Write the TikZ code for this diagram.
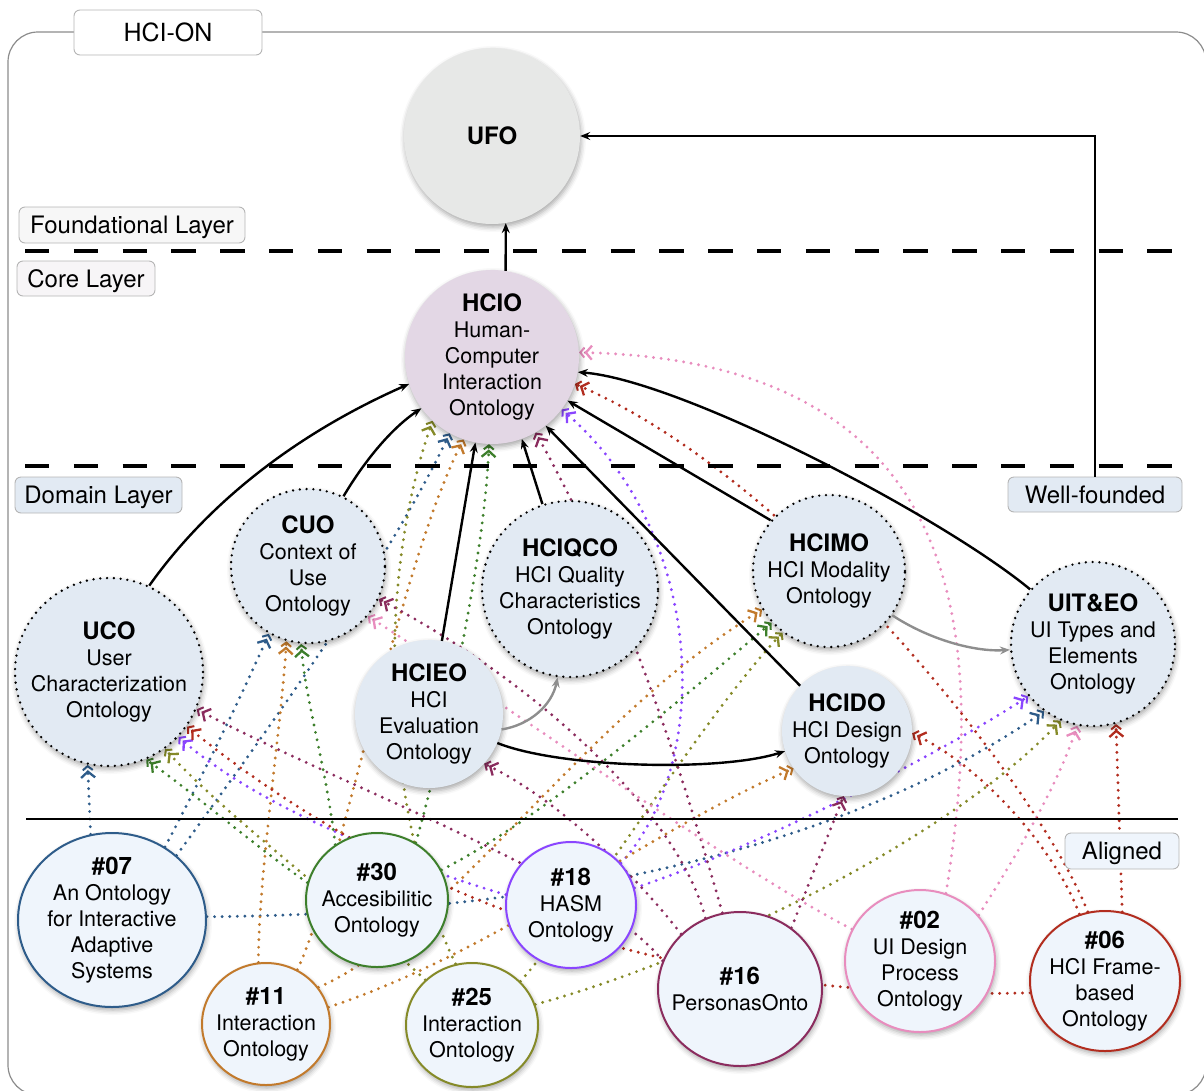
\documentclass[tikz,border=0pt]{standalone}
\usepackage{fontspec}
\setmainfont{TeX Gyre Heros}
\usetikzlibrary{arrows.meta,shapes.geometric,shadows.blur}

\definecolor{ufoFill}{HTML}{E7E8E7}
\definecolor{hcioFill}{HTML}{E3D7E5}
\definecolor{domFill}{HTML}{E2EAF3}
\definecolor{algFill}{HTML}{EFF5FC}
\definecolor{foundFill}{HTML}{F7F7F7}
\definecolor{coreFill}{HTML}{F7F5F7}
\definecolor{tagLine}{HTML}{B5B5B5}
\definecolor{frameLine}{HTML}{8C8C8C}
\definecolor{relGray}{HTML}{8E8E8E}
\definecolor{cSeven}{HTML}{2E5C8A}
\definecolor{cThirty}{HTML}{3D7F2B}
\definecolor{cEighteen}{HTML}{8A45FF}
\definecolor{cEleven}{HTML}{C27A2C}
\definecolor{cTwentyFive}{HTML}{858A28}
\definecolor{cSixteen}{HTML}{8B2C5E}
\definecolor{cTwo}{HTML}{E88DBE}
\definecolor{cSix}{HTML}{B22D1F}

\newcommand\nodetitle[1]{{\fontsize{24}{26}\selectfont\bfseries #1}}

\pgfdeclarelayer{links}
\pgfsetlayers{links,main}

\begin{document}
\begin{tikzpicture}[x=1pt,y=-1pt,
  softshadow/.style={blur shadow={shadow xshift=1pt,shadow yshift=-3pt,shadow blur radius=5pt,shadow opacity=35}},
  ball/.style={circle,inner sep=0pt,minimum size=#1,softshadow},
  domainnode/.style={ball=#1,fill=domFill,draw=black,line width=2.6pt,dash pattern=on 0pt off 6.8pt,line cap=round},
  plainnode/.style={ball=#1,fill=domFill},
  alignednode/.style={ellipse,inner sep=0pt,fill=algFill,draw=#1,line width=2pt,softshadow},
  txt/.style={align=center,inner sep=0pt,font=\fontsize{21.5}{26}\selectfont},
  layertag/.style={draw=tagLine,line width=0.9pt,rounded corners=6pt,inner sep=0pt,text depth=0pt,font=\fontsize{24}{26}\selectfont},
  isa/.style={line width=2.4pt,-{Stealth[length=10pt,width=8pt,inset=3.5pt]}},
  subtle/.style={isa,draw=relGray},
  link/.style={draw=#1,line width=3.2pt,line cap=round,dash pattern=on 0pt off 7.6pt,
     -{Straight Barb[length=6pt,width=14pt,line width=2.3pt,sep=-1pt] Straight Barb[length=4pt,width=10pt,line width=2pt]}},
]
\useasboundingbox (0,0) rectangle (1204,1090);

% outer frame and its title
\draw[frameLine,line width=1.2pt,rounded corners=30pt] (8,32) rectangle (1206,1095);
\node[layertag,fill=white,minimum width=188pt,minimum height=45pt,font=\fontsize{25}{27}\selectfont] (hcion) at (168,32.5) {HCI-ON};

% layer separators
\draw[line width=4.5pt,dash pattern=on 24.4pt off 24.4pt] (25,251) -- (1173,251);
\draw[line width=4.5pt,dash pattern=on 24.4pt off 24.4pt] (25,466) -- (1173,466);
\draw[line width=1.4pt] (26,819) -- (1178,819);

% foundational and core ontologies
\node[ball=176pt,fill=ufoFill] (ufo) at (492,136) {};
\node[txt] (ufo-t) at (ufo) {\nodetitle{UFO}};
\node[ball=174pt,fill=hcioFill] (hcio) at (492,357) {};
\node[txt] (hcio-t) at (hcio) {\nodetitle{HCIO}\\Human-\\Computer\\Interaction\\Ontology};

% domain ontologies
\node[domainnode=154pt] (cuo) at (308,566) {};
\node[txt] (cuo-t) at (cuo) {\nodetitle{CUO}\\Context of\\Use\\Ontology};
\node[domainnode=188pt] (uco) at (109,672) {};
\node[txt] (uco-t) at (uco) {\nodetitle{UCO}\\User\\Characterization\\Ontology};
\node[domainnode=176pt] (hciqco) at (570,589) {};
\node[txt] (hciqco-t) at (hciqco) {\nodetitle{HCIQCO}\\HCI Quality\\Characteristics\\Ontology};
\node[plainnode=148pt] (hcieo) at (429,714) {};
\node[txt] (hcieo-t) at (hcieo) {\nodetitle{HCIEO}\\HCI\\Evaluation\\Ontology};
\node[domainnode=152pt] (hcimo) at (829,571) {};
\node[txt] (hcimo-t) at (hcimo) {\nodetitle{HCIMO}\\HCI Modality\\Ontology};
\node[domainnode=164pt] (uiteo) at (1093,644) {};
\node[txt] (uiteo-t) at (uiteo) {\nodetitle{UIT\&EO}\\UI Types and\\Elements\\Ontology};
\node[plainnode=130pt] (hcido) at (847,731) {};
\node[txt] (hcido-t) at (hcido) {\nodetitle{HCIDO}\\HCI Design\\Ontology};

% aligned ontologies
\node[alignednode=cSeven,minimum width=188pt,minimum height=174pt] (n07) at (112,920) {};
\node[txt] (n07-t) at (n07) {\nodetitle{\#07}\\An Ontology\\for Interactive\\Adaptive\\Systems};
\node[alignednode=cThirty,minimum width=142pt,minimum height=134pt] (n30) at (377,900) {};
\node[txt] (n30-t) at (n30) {\nodetitle{\#30}\\Accesibilitic\\Ontology};
\node[alignednode=cEighteen,minimum width=130pt,minimum height=126pt] (n18) at (571,905) {};
\node[txt] (n18-t) at (n18) {\nodetitle{\#18}\\HASM\\Ontology};
\node[alignednode=cEleven,minimum width=128pt,minimum height=122pt] (n11) at (266,1024) {};
\node[txt] (n11-t) at (n11) {\nodetitle{\#11}\\Interaction\\Ontology};
\node[alignednode=cTwentyFive,minimum width=132pt,minimum height=124pt] (n25) at (472,1025) {};
\node[txt] (n25-t) at (n25) {\nodetitle{\#25}\\Interaction\\Ontology};
\node[alignednode=cSixteen,minimum width=164pt,minimum height=154pt] (n16) at (740,989) {};
\node[txt] (n16-t) at (n16) {\nodetitle{\#16}\\PersonasOnto};
\node[alignednode=cTwo,minimum width=150pt,minimum height=142pt] (n02) at (920,961) {};
\node[txt] (n02-t) at (n02) {\nodetitle{\#02}\\UI Design\\Process\\Ontology};
\node[alignednode=cSix,minimum width=150pt,minimum height=140pt] (n06) at (1105,981) {};
\node[txt] (n06-t) at (n06) {\nodetitle{\#06}\\HCI Frame-\\based\\Ontology};

% layer tags
\node[layertag,fill=foundFill,minimum width=226pt,minimum height=36pt] (foundational) at (132,225) {Foundational Layer};
\node[layertag,fill=coreFill,minimum width=138pt,minimum height=35pt] (core) at (86,278.5) {Core Layer};
\node[layertag,fill=domFill,minimum width=167pt,minimum height=36pt] (domainlayer) at (98.5,495) {Domain Layer};
\node[layertag,fill=domFill,minimum width=174pt,minimum height=35pt] (wf) at (1095,494.5) {Well-founded};
\node[layertag,fill=algFill,minimum width=114pt,minimum height=36pt] (alignedtag) at (1122,851) {Aligned};

% specialisation links
\draw[isa] (hcio.81) -- (ufo.-81);
\draw[isa] (wf.north) |- (ufo.east);
\draw[isa] (uco.65) .. controls (210,500) and (300,432) .. (hcio.198);
\draw[isa] (cuo.63) .. controls (365,460) and (392,428) .. (hcio.216);
\draw[isa] (hcieo.80) -- (hcio.259);
\draw[isa] (hciqco.108) -- (hcio.290);
\draw[isa] (hcido.136) -- (hcio.308);
\draw[isa] (hcimo.139) -- (hcio.330);
\draw[isa] (uiteo.139) .. controls (940,515) and (680,380) .. (hcio.350);
\draw[subtle] (hcieo.-12) .. controls (530,725) and (552,705) .. (hciqco.262);
\draw[subtle] (hcimo.325) .. controls (930,640) and (975,652) .. (uiteo.184);
\draw[isa] (hcieo.337) .. controls (560,768) and (720,772) .. (hcido.198);

% alignment links, kept behind the ontologies
\begin{pgfonlayer}{links}
% #07
\draw[link=cSeven] (n07.104) -- (uco.257);
\draw[link=cSeven] (n07.54) .. controls (195,790) and (240,700) .. (cuo.240);
\draw[link=cSeven] (n07.45) .. controls (260,740) and (385,570) .. (hcio.241);
\draw[link=cSeven] (n07.2) .. controls (450,915) and (800,880) .. (uiteo.234);
% #30
\draw[link=cThirty] (n30.166) .. controls (260,850) and (190,790) .. (uco.293);
\draw[link=cThirty] (n30.127) .. controls (325,760) and (305,700) .. (cuo.265);
\draw[link=cThirty] (n30.56) .. controls (440,760) and (485,560) .. (hcio.268);
\draw[link=cThirty] (n30.25) .. controls (540,820) and (680,700) .. (hcimo.222);
% #18
\draw[link=cEighteen] (n18.171) .. controls (420,870) and (260,810) .. (uco.317);
\draw[link=cEighteen] (n18.40) .. controls (715,760) and (705,530) .. (hcio.323);
\draw[link=cEighteen] (n18.15) .. controls (750,850) and (930,760) .. (uiteo.219);
% #11
\draw[link=cEleven] (n11.97) .. controls (258,880) and (282,720) .. (cuo.254);
\draw[link=cEleven] (n11.60) .. controls (340,880) and (400,560) .. (hcio.251);
\draw[link=cEleven] (n11.35) .. controls (450,930) and (580,720) .. (hcimo.210);
\draw[link=cEleven] (n11.15) .. controls (500,950) and (650,830) .. (hcido.215);
% #25
\draw[link=cTwentyFive] (n25.136) .. controls (340,900) and (230,820) .. (uco.306);
\draw[link=cTwentyFive] (n25.105) .. controls (390,830) and (370,600) .. (hcio.227);
\draw[link=cTwentyFive] (n25.42) .. controls (600,890) and (700,720) .. (hcimo.233);
\draw[link=cTwentyFive] (n25.18) .. controls (700,960) and (950,840) .. (uiteo.247);
% #16
\draw[link=cSixteen] (n16.160) .. controls (600,880) and (350,790) .. (uco.337);
\draw[link=cSixteen] (n16.116) .. controls (680,820) and (550,690) .. (cuo.335);
\draw[link=cSixteen] (n16.137) .. controls (640,880) and (560,800) .. (hcieo.318);
\draw[link=cSixteen] (n16.103) .. controls (690,800) and (630,600) .. (hcio.300);
\draw[link=cSixteen] (n16.50) -- (hcido.267);
% #02
\draw[link=cTwo] (n02.69) .. controls (990,620) and (960,360) .. (hcio.3);
\draw[link=cTwo] (n02.155) .. controls (720,860) and (500,700) .. (cuo.320);
\draw[link=cTwo] (n02.38) .. controls (1020,850) and (1060,780) .. (uiteo.259);
% #06
\draw[link=cSix] (n06.76) -- (uiteo.286);
\draw[link=cSix] (n06.111) .. controls (1060,860) and (990,770) .. (hcido.358);
\draw[link=cSix] (n06.104) .. controls (1040,790) and (800,480) .. (hcio.342);
\draw[link=cSix] (n06.189) .. controls (750,1000) and (450,940) .. (uco.325);
\end{pgfonlayer}
\end{tikzpicture}
\end{document}
